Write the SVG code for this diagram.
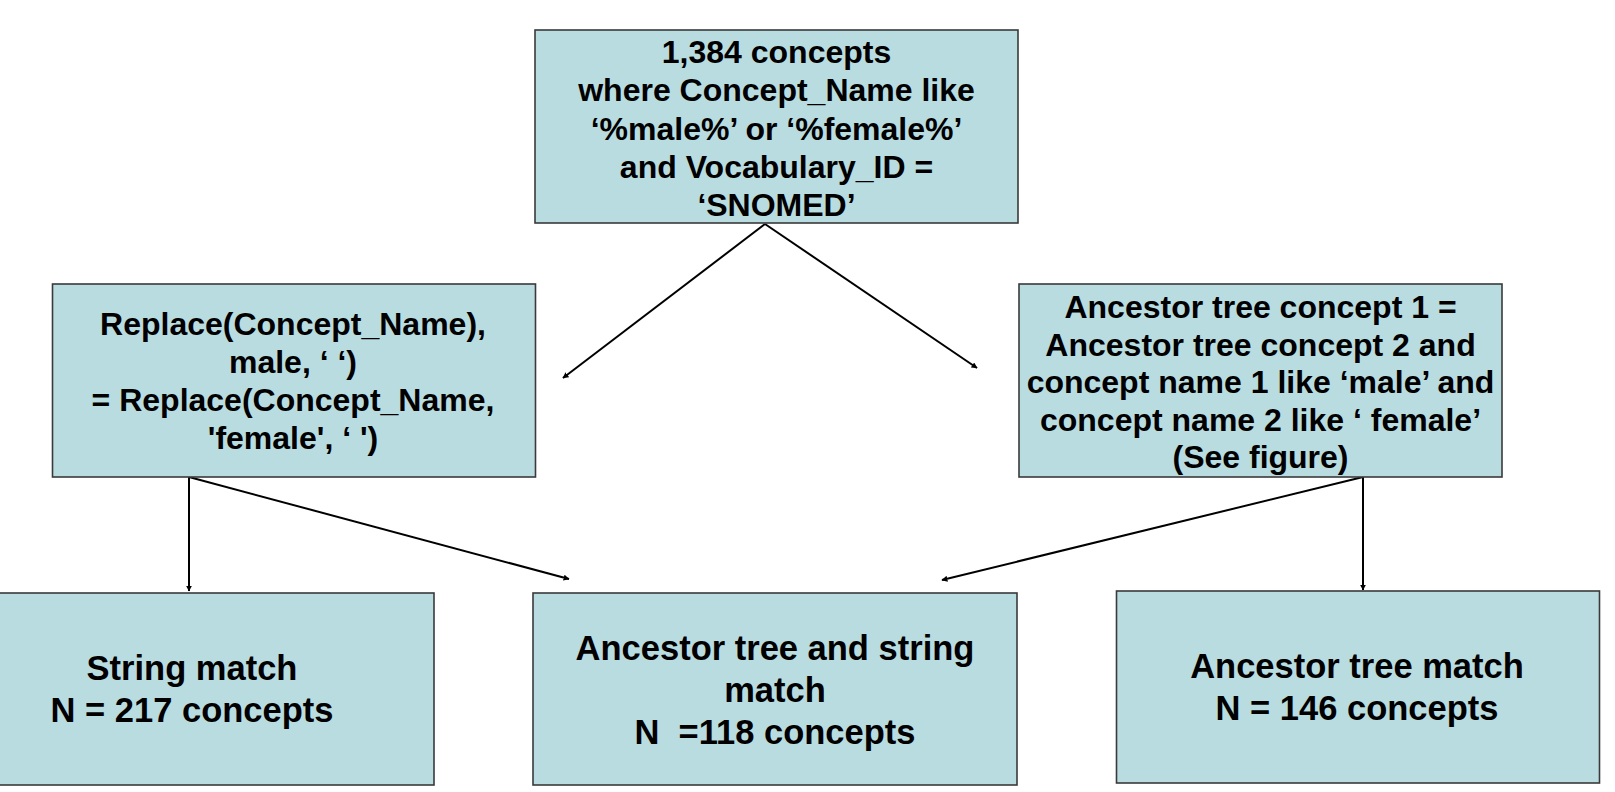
<svg xmlns="http://www.w3.org/2000/svg" width="1615" height="792" viewBox="0 0 1615 792">
<style>
.box{fill:#B9DCE0;stroke:#3a3a3a;stroke-width:1.6}
.t{font-family:"Liberation Sans",Arial,sans-serif;font-weight:bold;font-size:32px;fill:#000;text-anchor:middle;white-space:pre}
.b{font-size:34.5px}
.c{stroke:#000;stroke-width:2;fill:none;marker-end:url(#ah)}
</style>
<defs>
<marker id="ah" viewBox="0 0 10 10" refX="9" refY="5" markerWidth="6" markerHeight="6" markerUnits="userSpaceOnUse" orient="auto">
<path d="M0,0 L10,5 L0,10 z" fill="#000"/>
</marker>
</defs>
<rect width="1615" height="792" fill="#fff"/>
<g id="connectors">
<line class="c" x1="765" y1="224" x2="563" y2="378"/>
<line class="c" x1="765" y1="224" x2="977" y2="368"/>
<line class="c" x1="189" y1="477" x2="189" y2="591"/>
<line class="c" x1="189" y1="477" x2="569" y2="579"/>
<line class="c" x1="1363" y1="477" x2="942" y2="580"/>
<line class="c" x1="1363" y1="477" x2="1363" y2="590"/>
</g>
<g id="node-top">
<rect class="box" x="535" y="30" width="483" height="193"/>
<text class="t" x="776.5" y="63">1,384 concepts</text>
<text class="t" x="776.5" y="101">where Concept_Name like</text>
<text class="t" x="776.5" y="140">‘%male%’ or ‘%female%’</text>
<text class="t" x="776.5" y="178">and Vocabulary_ID =</text>
<text class="t" x="776.5" y="216">‘SNOMED’</text>
</g>
<g id="node-replace">
<rect class="box" x="52.5" y="284" width="483" height="193"/>
<text class="t" x="293" y="335">Replace(Concept_Name),</text>
<text class="t" x="293" y="373">male, ‘ ‘)</text>
<text class="t" x="293" y="411">= Replace(Concept_Name,</text>
<text class="t" x="293" y="449">'female', ‘ ')</text>
</g>
<g id="node-ancestor">
<rect class="box" x="1019" y="284" width="483" height="193"/>
<text class="t" x="1260.5" y="318">Ancestor tree concept 1 =</text>
<text class="t" x="1260.5" y="355.5">Ancestor tree concept 2 and</text>
<text class="t" x="1260.5" y="393">concept name 1 like ‘male’ and</text>
<text class="t" x="1260.5" y="430.5">concept name 2 like ‘ female’</text>
<text class="t" x="1260.5" y="468">(See figure)</text>
</g>
<g id="node-string">
<rect class="box" x="-50" y="593" width="484" height="192"/>
<text class="t b" x="192" y="680">String match</text>
<text class="t b" x="192" y="722">N = 217 concepts</text>
</g>
<g id="node-both">
<rect class="box" x="533" y="593" width="484" height="192"/>
<text class="t b" x="775" y="660">Ancestor tree and string</text>
<text class="t b" x="775" y="702">match</text>
<text class="t b" x="775" y="744">N  =118 concepts</text>
</g>
<g id="node-tree">
<rect class="box" x="1116.5" y="591" width="483" height="192"/>
<text class="t b" x="1357" y="678">Ancestor tree match</text>
<text class="t b" x="1357" y="720">N = 146 concepts</text>
</g>
</svg>
